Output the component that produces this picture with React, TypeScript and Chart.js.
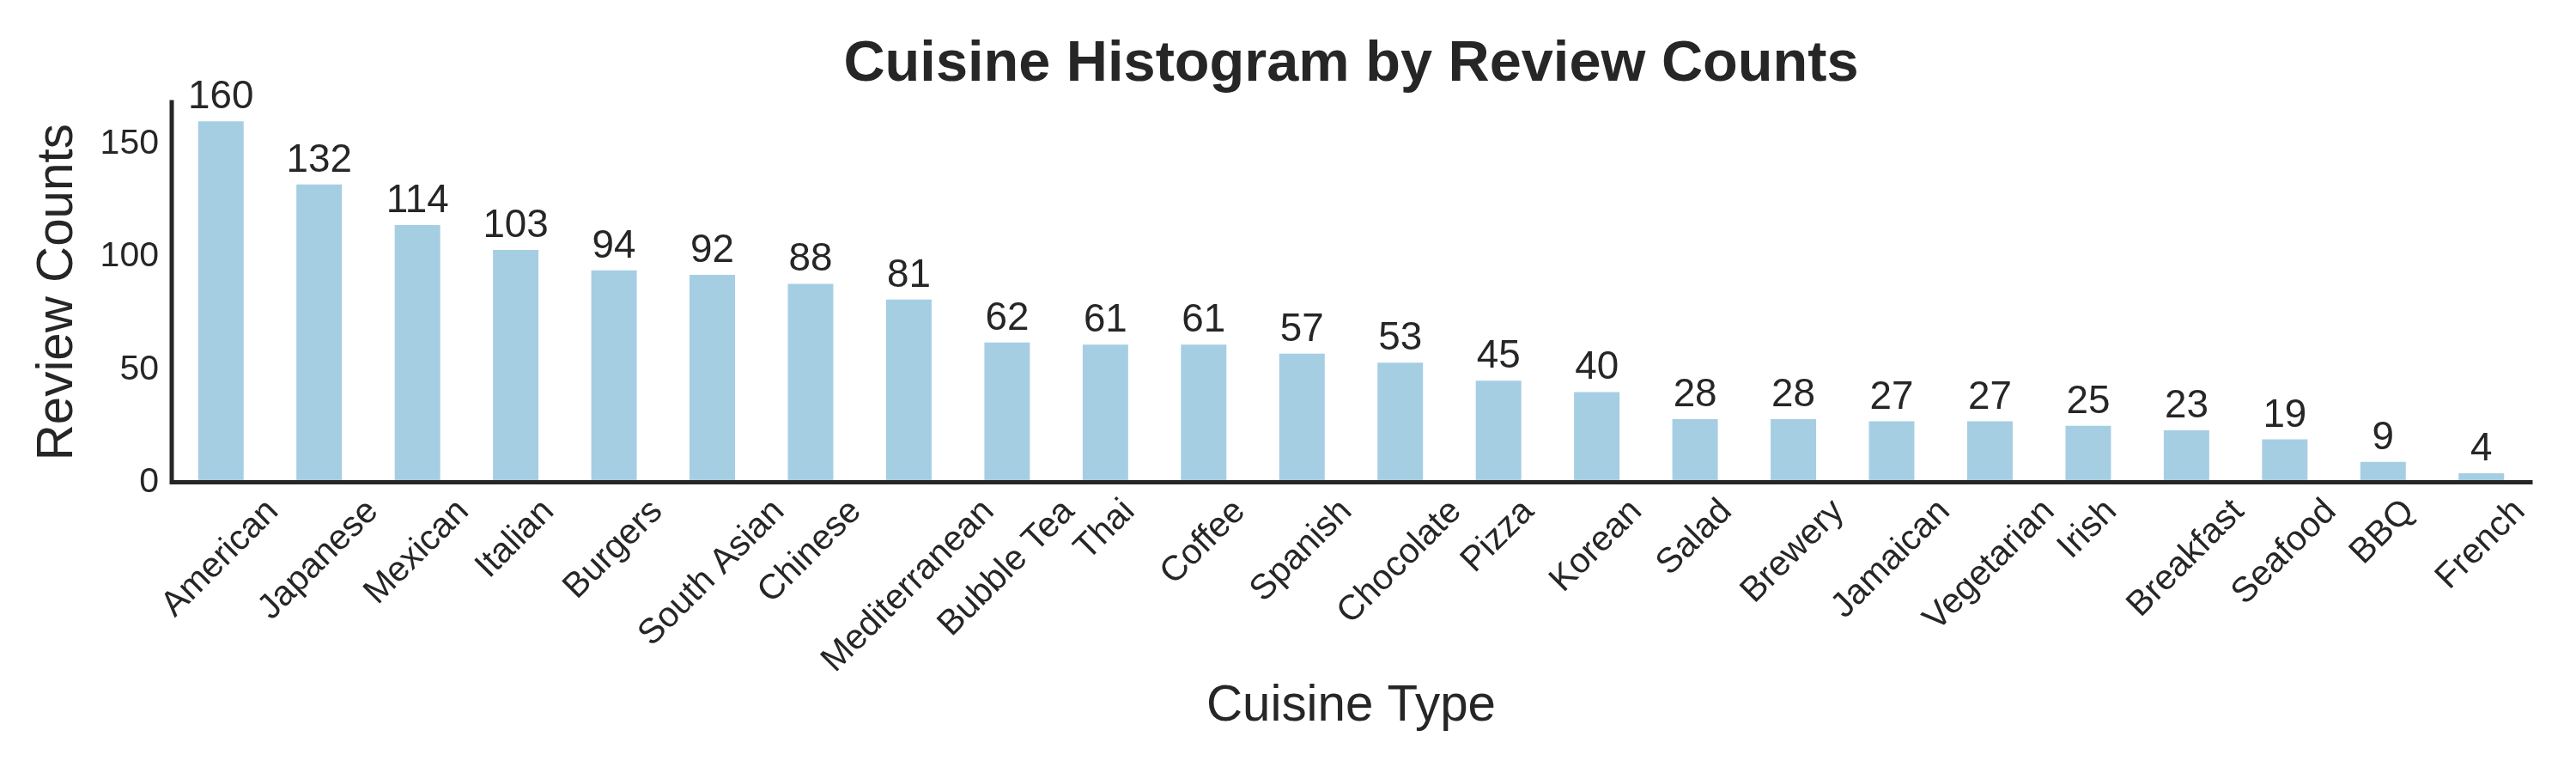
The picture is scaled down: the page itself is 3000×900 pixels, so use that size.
import React, { useEffect, useRef } from "react";
import { Chart, registerables } from "chart.js";

Chart.register(...registerables);

const categories = [
  "American", "Japanese", "Mexican", "Italian", "Burgers", "South Asian",
  "Chinese", "Mediterranean", "Bubble Tea", "Thai", "Coffee", "Spanish",
  "Chocolate", "Pizza", "Korean", "Salad", "Brewery", "Jamaican",
  "Vegetarian", "Irish", "Breakfast", "Seafood", "BBQ", "French",
];
const reviewCounts = [
  160, 132, 114, 103, 94, 92, 88, 81, 62, 61, 61, 57,
  53, 45, 40, 28, 28, 27, 27, 25, 23, 19, 9, 4,
];
const yTicks = [0, 50, 100, 150];
const titleText = "Cuisine Histogram by Review Counts";
const xTitle = "Cuisine Type";
const yTitle = "Review Counts";

const FONT = "'Liberation Sans', Arial, Helvetica, sans-serif";
const TEXT = "#262626";
const BAR = "#a6cee3";

export default function App() {
  const ref = useRef<HTMLCanvasElement | null>(null);

  useEffect(() => {
    document.body.style.margin = "0";
    const canvas = ref.current;
    if (!canvas) return;

    const decor = {
      id: "decor",
      afterDatasetsDraw(chart: any) {
        const { ctx, chartArea: a, scales } = chart;
        ctx.save();
        // spines (left + bottom)
        ctx.strokeStyle = TEXT;
        ctx.lineWidth = 5;
        ctx.lineCap = "square";
        ctx.lineJoin = "miter";
        ctx.beginPath();
        ctx.moveTo(a.left, a.top);
        ctx.lineTo(a.left, a.bottom);
        ctx.lineTo(a.right, a.bottom);
        ctx.stroke();

        // value labels above bars
        ctx.fillStyle = TEXT;
        ctx.font = `45.8px ${FONT}`;
        ctx.textAlign = "center";
        ctx.textBaseline = "alphabetic";
        const meta = chart.getDatasetMeta(0);
        meta.data.forEach((bar: any, i: number) => {
          ctx.fillText(String(reviewCounts[i]), bar.x, bar.y - 15);
        });

        // rotated x tick labels (matplotlib-style centered bbox)
        const S = 41;
        const Y0 = 576;
        ctx.font = `${S}px ${FONT}`;
        const xs = scales.x;
        categories.forEach((lab, i) => {
          const px = xs.getPixelForValue(i);
          const w = ctx.measureText(lab).width;
          const side = Math.SQRT1_2 * (w + 0.94 * S);
          ctx.save();
          ctx.translate(px, Y0 + side / 2);
          ctx.rotate(-Math.PI / 4);
          ctx.textAlign = "center";
          ctx.textBaseline = "alphabetic";
          ctx.fillText(lab, 0, 0.26 * S);
          ctx.restore();
        });

        // title
        ctx.font = `bold 66.7px ${FONT}`;
        ctx.textAlign = "center";
        ctx.textBaseline = "alphabetic";
        ctx.fillText(titleText, (a.left + a.right) / 2, 94);
        ctx.restore();
      },
    };

    const chart = new Chart(canvas, {
      type: "bar",
      data: {
        labels: categories,
        datasets: [
          {
            data: reviewCounts,
            backgroundColor: BAR,
            borderWidth: 0,
            barPercentage: 0.463,
            categoryPercentage: 1,
          },
        ],
      },
      options: {
        animation: false,
        responsive: false,
        devicePixelRatio: 1,
        layout: { padding: { top: 119, right: 53, bottom: 0, left: 0 } },
        plugins: {
          legend: { display: false },
          tooltip: { enabled: false },
          title: { display: false },
        },
        scales: {
          x: {
            type: "category",
            offset: true,
            grid: { display: false, drawTicks: false },
            border: { display: false },
            ticks: { display: false },
            title: {
              display: true,
              text: xTitle,
              color: TEXT,
              font: { family: FONT, size: 58.3 },
              padding: { top: 0, bottom: 42 },
            },
            afterFit: (s: any) => {
              s.height = 338.5;
            },
          },
          y: {
            type: "linear",
            min: 0,
            max: 168.5,
            grid: { display: false, drawTicks: false },
            border: { display: false },
            ticks: {
              color: TEXT,
              font: { family: FONT, size: 41 },
              padding: 15,
            },
            afterBuildTicks: (s: any) => {
              s.ticks = yTicks.map((v) => ({ value: v }));
            },
            title: {
              display: true,
              text: yTitle,
              color: TEXT,
              font: { family: FONT, size: 58.3 },
              padding: { top: 33, bottom: 0 },
            },
            afterFit: (s: any) => {
              s.width = 200;
            },
          },
        },
      },
      plugins: [decor],
    });

    return () => chart.destroy();
  }, []);

  return (
    <div style={{ width: 3000, height: 900, background: "#ffffff" }}>
      <canvas ref={ref} width={3000} height={900} style={{ display: "block" }} />
    </div>
  );
}
